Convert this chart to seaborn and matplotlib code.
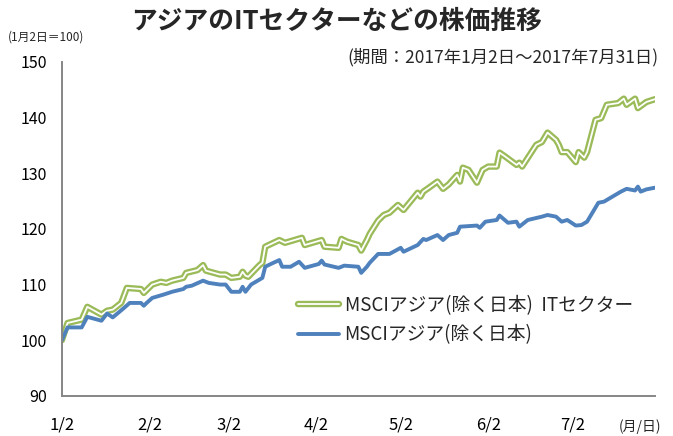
import pandas as pd
import numpy as np
import matplotlib
matplotlib.use("Agg")
import matplotlib.pyplot as plt
import matplotlib.patheffects as pe
import seaborn as sns

# ==========================
#  Datos (1月2日=100)
# ==========================
it_dates = ["01-02", "01-04", "01-09", "01-11", "01-16", "01-18", "01-20", "01-23",
            "01-25", "01-30", "01-31", "02-03", "02-06", "02-08", "02-10", "02-14",
            "02-15", "02-19", "02-21", "02-22", "02-27", "03-01", "03-03", "03-06",
            "03-07", "03-08", "03-09", "03-13", "03-14", "03-15", "03-20", "03-22",
            "03-28", "03-29", "04-04", "04-05", "04-10", "04-11", "04-13", "04-17",
            "04-18", "04-20", "04-21", "04-24", "04-25", "04-26", "04-28", "05-01",
            "05-03", "05-08", "05-09", "05-10", "05-12", "05-15", "05-17", "05-19",
            "05-22", "05-23", "05-24", "05-26", "05-29", "05-31", "06-02", "06-05",
            "06-06", "06-08", "06-12", "06-13", "06-14", "06-19", "06-21", "06-23",
            "06-26", "06-27", "06-28", "06-30", "07-03", "07-04", "07-06", "07-07",
            "07-10", "07-12", "07-14", "07-18", "07-20", "07-21", "07-24", "07-25",
            "07-28", "07-31"]
it_values = [100.0, 103.1, 103.7, 106.0, 104.6, 105.3, 105.5, 106.7,
             109.4, 109.2, 108.5, 110.0, 110.5, 110.3, 110.7, 111.2,
             112.1, 112.6, 113.5, 112.5, 111.8, 111.8, 111.2, 111.4,
             112.3, 111.6, 111.4, 113.5, 113.9, 116.8, 118.0, 117.5,
             118.4, 117.1, 118.0, 116.8, 116.6, 118.2, 117.7, 117.1,
             116.1, 118.0, 119.1, 121.5, 122.0, 122.5, 122.9, 124.3,
             123.4, 126.5, 125.8, 126.7, 127.4, 128.5, 127.2, 128.0,
             129.7, 128.5, 131.0, 130.6, 128.3, 130.6, 131.2, 131.2,
             133.7, 133.0, 131.5, 131.9, 131.2, 135.1, 135.6, 137.3,
             136.0, 135.1, 133.8, 133.8, 132.0, 133.8, 132.8, 133.8,
             139.6, 139.9, 142.3, 142.6, 143.4, 142.3, 143.4, 141.7,
             142.8, 143.3]

asia_dates = ["01-02", "01-04", "01-09", "01-11", "01-16", "01-18", "01-20", "01-24",
              "01-26", "01-30", "01-31", "02-01", "02-03", "02-07", "02-10", "02-14",
              "02-15", "02-17", "02-21", "02-23", "02-27", "03-01", "03-03", "03-06",
              "03-07", "03-08", "03-10", "03-14", "03-15", "03-17", "03-20", "03-21",
              "03-24", "03-27", "03-29", "04-03", "04-04", "04-05", "04-10", "04-12",
              "04-17", "04-18", "04-20", "04-21", "04-24", "04-28", "05-02", "05-03",
              "05-08", "05-10", "05-11", "05-15", "05-17", "05-19", "05-22", "05-23",
              "05-29", "05-30", "06-01", "06-05", "06-06", "06-09", "06-12", "06-13",
              "06-16", "06-21", "06-23", "06-26", "06-28", "06-30", "07-03", "07-05",
              "07-07", "07-11", "07-13", "07-17", "07-19", "07-21", "07-24", "07-25",
              "07-26", "07-28", "07-31"]
asia_values = [100.0, 102.3, 102.3, 104.2, 103.5, 104.8, 104.1, 105.8,
               106.7, 106.7, 106.2, 106.7, 107.6, 108.2, 108.7, 109.2,
               109.6, 109.8, 110.7, 110.3, 110.0, 110.0, 108.7, 108.7,
               109.6, 108.7, 110.0, 111.2, 113.2, 113.7, 114.4, 113.2,
               113.2, 114.1, 113.0, 113.7, 114.3, 113.6, 113.0, 113.4,
               113.2, 112.1, 113.2, 113.9, 115.5, 115.5, 116.6, 115.9,
               117.1, 118.2, 118.0, 118.9, 118.0, 118.9, 119.3, 120.4,
               120.6, 120.2, 121.3, 121.6, 122.4, 121.1, 121.3, 120.4,
               121.6, 122.2, 122.5, 122.2, 121.3, 121.6, 120.6, 120.7,
               121.3, 124.7, 124.9, 126.1, 126.7, 127.2, 126.9, 127.6,
               126.7, 127.1, 127.4]

it_label = "MSCIアジア(除く日本)  ITセクター"
asia_label = "MSCIアジア(除く日本)"
tick_dates = ["01-02", "02-02", "03-02", "04-02", "05-02", "06-02", "07-02"]
tick_labels = ["1/2", "2/2", "3/2", "4/2", "5/2", "6/2", "7/2"]

def to_dates(md):
    return pd.to_datetime(["2017-" + d for d in md])

df_it = pd.DataFrame({"fecha": to_dates(it_dates), "valor": it_values})
df_asia = pd.DataFrame({"fecha": to_dates(asia_dates), "valor": asia_values})

# ==========================
#  Configuración visual
# ==========================
sns.set_style("white")
plt.rcParams["font.family"] = ["Noto Sans CJK JP", "DejaVu Sans"]

green = "#9BBB59"
blue = "#4F81BD"
gray = "#868686"

fig = plt.figure(figsize=(6.73, 4.36), dpi=100)
ax = fig.add_axes([0.092, 0.092, 0.881, 0.766])

sns.lineplot(data=df_it, x="fecha", y="valor", ax=ax, color="white", lw=1.3,
             label=it_label,
             path_effects=[pe.Stroke(linewidth=4.6, foreground=green), pe.Normal()])
sns.lineplot(data=df_asia, x="fecha", y="valor", ax=ax, color=blue, lw=2.8,
             label=asia_label)

ax.set_xlim(pd.Timestamp("2017-01-02"), pd.Timestamp("2017-07-31"))
ax.set_ylim(90, 150)
ax.set_yticks(np.arange(90, 151, 10))
ax.set_xticks(to_dates(tick_dates))
ax.set_xticklabels(tick_labels)
ax.set_xlabel("")
ax.set_ylabel("")

for s in ["top", "right"]:
    ax.spines[s].set_visible(False)
for s in ["left", "bottom"]:
    ax.spines[s].set_color(gray)
    ax.spines[s].set_linewidth(1.4)
ax.tick_params(axis="both", direction="out", length=5, width=1.2, color=gray,
               labelsize=11.5, labelcolor="black")
ax.tick_params(axis="y", pad=6)
ax.tick_params(axis="x", pad=10, labelsize=12)

leg = ax.legend(loc="upper left", bbox_to_anchor=(0.385, 0.325), frameon=False,
                fontsize=13.5, handlelength=2.2, handletextpad=0.3, labelspacing=0.45,
                borderaxespad=0)

fig.text(0.5, 0.952, "アジアのITセクターなどの株価推移", ha="center", va="center",
         fontsize=18.5, fontweight="bold")
fig.text(0.978, 0.868, "(期間：2017年1月2日～2017年7月31日)", ha="right", va="center",
         fontsize=12.5)
fig.text(0.012, 0.915, "(1月2日＝100)", ha="left", va="center", fontsize=8.5)
fig.text(0.982, 0.022, "(月/日)", ha="right", va="center", fontsize=10)

fig.savefig("out.png", dpi=100)
